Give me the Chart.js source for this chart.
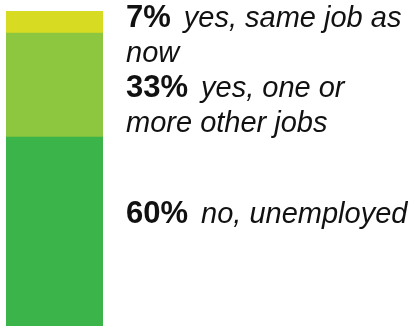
<!DOCTYPE html>
<html>
<head>
<meta charset="utf-8">
<script src="https://cdn.jsdelivr.net/npm/chart.js@4/dist/chart.umd.min.js"></script>
<style>
  html, body { margin: 0; padding: 0; background: #fff; }
  #wrap { width: 416px; height: 327px; }
</style>
</head>
<body>
<div id="wrap"><canvas id="chart" width="416" height="327"></canvas></div>
<script>
// Chart data, top to bottom as in the picture
const categories = ['answer'];
const percents = [7, 33, 60];
const labelLines = [
    ['yes, same job as', 'now'],
    ['yes, one or', 'more other jobs'],
    ['no, unemployed']
];
const colors = ['#d7dc23', '#8dc63f', '#3bb44a'];

// Chart.js stacks the first dataset at the bottom, so reverse the order
const datasets = percents.map((p, i) => ({
    label: labelLines[i].join(' '),
    data: [p],
    backgroundColor: colors[i],
    borderWidth: 0,
    barPercentage: 1,
    categoryPercentage: 1,
    idx: i
})).reverse();

// Draws the "NN% text" labels to the right of the bar
const sideLabels = {
    id: 'sideLabels',
    afterDatasetsDraw(chart) {
        const ctx = chart.ctx;
        const area = chart.chartArea;
        const x = area.right + 23;
        const lineH = 35;
        ctx.save();
        ctx.fillStyle = '#111';
        ctx.textBaseline = 'alphabetic';
        ctx.textAlign = 'left';

        let baseline = area.top + 16;
        chart.data.datasets.slice().reverse().forEach((ds, n) => {
            const meta = chart.getDatasetMeta(chart.data.datasets.indexOf(ds));
            const bar = meta.data[0];
            const lines = labelLines[ds.idx];
            if (n === 2) {
                // last block sits a bit above the middle of its segment
                baseline = (bar.y + bar.base) / 2 - 9;
            }
            lines.forEach((line, k) => {
                let cx = x;
                if (k === 0) {
                    ctx.font = 'bold 31px "Liberation Sans", Arial, sans-serif';
                    const pct = ds.data[0] + '%';
                    ctx.fillText(pct, cx, baseline);
                    cx += ctx.measureText(pct).width + 13;
                }
                ctx.font = 'italic 29px "Liberation Sans", Arial, sans-serif';
                ctx.fillText(line, cx, baseline);
                baseline += lineH;
            });
        });
        ctx.restore();
    }
};

new Chart(document.getElementById('chart').getContext('2d'), {
    type: 'bar',
    data: { labels: categories, datasets: datasets },
    options: {
        responsive: false,
        animation: false,
        layout: { padding: { left: 6, top: 11, right: 313, bottom: 1 } },
        plugins: { legend: { display: false }, tooltip: { enabled: false } },
        scales: {
            x: { stacked: true, display: false },
            y: { stacked: true, display: false, min: 0, max: 100 }
        }
    },
    plugins: [sideLabels]
});
</script>
</body>
</html>
